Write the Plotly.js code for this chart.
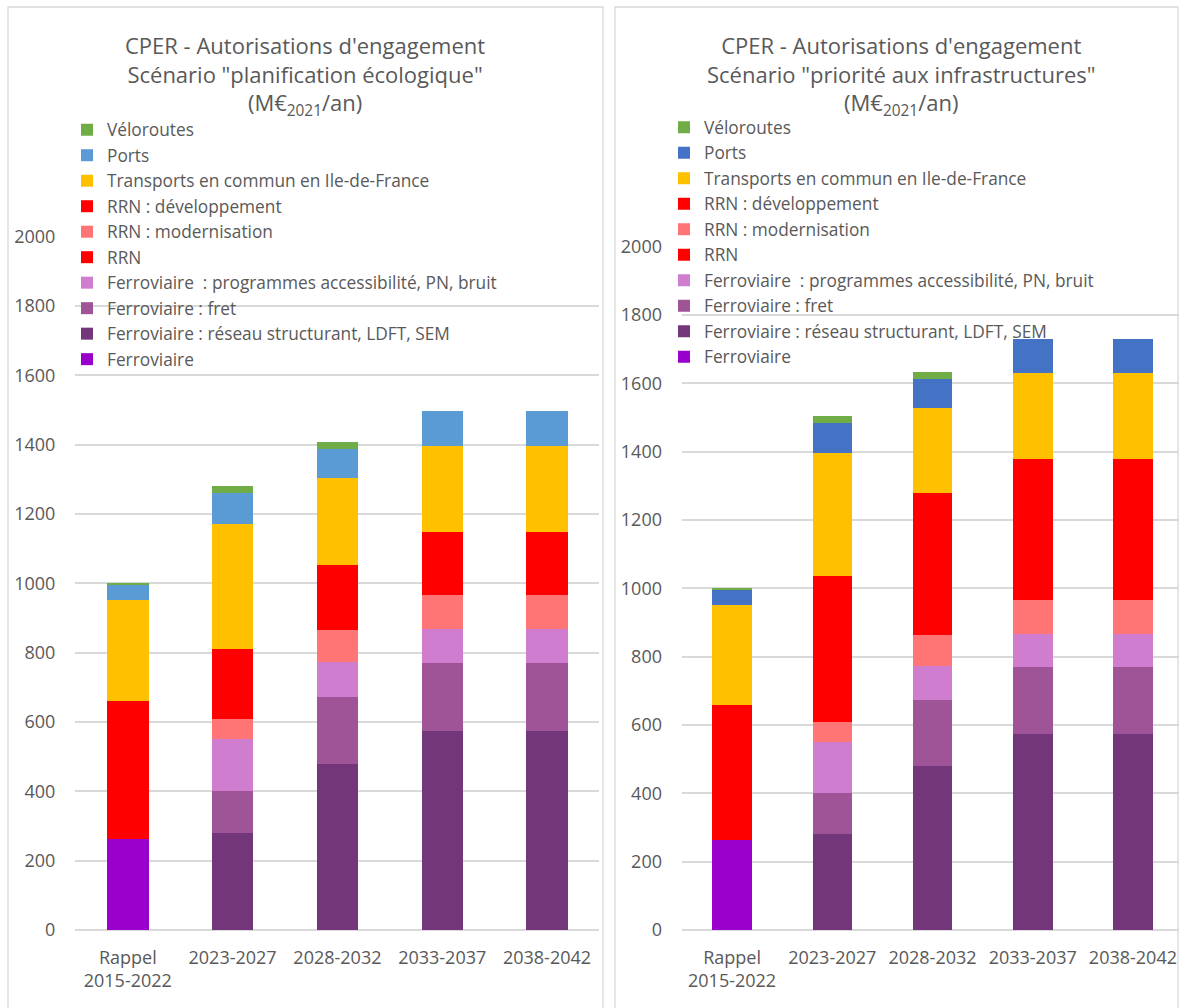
<!DOCTYPE html>
<html>
<head>
<meta charset="utf-8">
<script src="https://cdn.plot.ly/plotly-3.0.1.min.js"></script>
<style>html,body{margin:0;padding:0;background:#fff}#chart{width:1179px;height:1008px}</style>
</head>
<body>
<div id="chart"></div>
<script>
// ---- data ----
const categories = ["Rappel<br>2015-2022", "2023-2027", "2028-2032", "2033-2037", "2038-2042"];

const seriesNames = [
  "Ferroviaire",
  "Ferroviaire : réseau structurant, LDFT, SEM",
  "Ferroviaire : fret",
  "Ferroviaire  : programmes accessibilité, PN, bruit",
  "RRN",
  "RRN : modernisation",
  "RRN : développement",
  "Transports en commun en Ile-de-France",
  "Ports",
  "Véloroutes"
];

// Scénario "planification écologique"
const ecoFerroviaire   = [262, 0, 0, 0, 0];
const ecoStructurant   = [0, 280, 480, 575, 575];
const ecoFret          = [0, 122, 192, 195, 195];
const ecoAccessibilite = [0, 148, 100, 97, 97];
const ecoRRN           = [398, 0, 0, 0, 0];
const ecoModernisation = [0, 60, 92, 100, 100];
const ecoDeveloppement = [0, 200, 190, 180, 180];
const ecoTC            = [292, 360, 250, 250, 250];
const ecoPorts         = [45, 90, 85, 100, 100];
const ecoVeloroutes    = [3, 20, 20, 0, 0];

// Scénario "priorité aux infrastructures"
const infFerroviaire   = [262, 0, 0, 0, 0];
const infStructurant   = [0, 280, 480, 575, 575];
const infFret          = [0, 122, 192, 195, 195];
const infAccessibilite = [0, 148, 100, 97, 97];
const infRRN           = [398, 0, 0, 0, 0];
const infModernisation = [0, 60, 92, 100, 100];
const infDeveloppement = [0, 425, 415, 413, 413];
const infTC            = [292, 360, 250, 250, 250];
const infPorts         = [45, 90, 85, 100, 100];
const infVeloroutes    = [3, 20, 20, 0, 0];

const yTickVals = [0, 200, 400, 600, 800, 1000, 1200, 1400, 1600, 1800, 2000];

// ---- styles ----
const FONT = "'Open Sans', 'Noto Sans', sans-serif";
const TXT = "#595959";
const GRID = "#D9D9D9";
const colorsLeft  = ["#9900CC", "#74367A", "#9E5497", "#D17DCF", "#FF0000", "#FF7575", "#FF0000", "#FFC000", "#5B9BD5", "#70AD47"];
const colorsRight = ["#9900CC", "#74367A", "#9E5497", "#D17DCF", "#FF0000", "#FF7575", "#FF0000", "#FFC000", "#4472C4", "#70AD47"];

const ecoSeries = [ecoFerroviaire, ecoStructurant, ecoFret, ecoAccessibilite, ecoRRN, ecoModernisation, ecoDeveloppement, ecoTC, ecoPorts, ecoVeloroutes];
const infSeries = [infFerroviaire, infStructurant, infFret, infAccessibilite, infRRN, infModernisation, infDeveloppement, infTC, infPorts, infVeloroutes];

const traces = [];
ecoSeries.forEach((vals, i) => traces.push({
  type: "bar", name: seriesNames[i], x: categories, y: vals,
  xaxis: "x", yaxis: "y", legend: "legend",
  marker: {color: colorsLeft[i], line: {width: 0}}, hoverinfo: "x+y+name"
}));
infSeries.forEach((vals, i) => traces.push({
  type: "bar", name: seriesNames[i], x: categories, y: vals,
  xaxis: "x2", yaxis: "y2", legend: "legend2",
  marker: {color: colorsRight[i], line: {width: 0}}, hoverinfo: "x+y+name"
}));

const W = 1179, H = 1008;
const px = v => v / W;
const py = v => 1 - v / H;

const yAxisCommon = {
  range: [0, 2000], tickvals: yTickVals, showgrid: true, gridcolor: GRID, gridwidth: 1.5,
  zeroline: true, zerolinecolor: GRID, zerolinewidth: 1.5, showline: false,
  tickfont: {family: FONT, size: 18, color: TXT}, ticklabelstandoff: 19, fixedrange: true
};
const xAxisCommon = {
  type: "category", showgrid: false, zeroline: false, showline: false, ticks: "",
  tickfont: {family: FONT, size: 18, color: TXT}, ticklabelstandoff: 15, fixedrange: true
};
const legendCommon = {
  traceorder: "reversed", bgcolor: "rgba(0,0,0,0)", borderwidth: 0,
  font: {family: FONT, size: 17.3, color: TXT}, xanchor: "left", yanchor: "top",
  itemclick: false, itemdoubleclick: false
};

const layout = {
  width: W, height: H,
  margin: {l: 0, r: 0, t: 0, b: 0},
  paper_bgcolor: "#ffffff", plot_bgcolor: "rgba(0,0,0,0)",
  barmode: "stack", bargap: 0.605,
  showlegend: true,
  font: {family: FONT, color: TXT},
  xaxis: Object.assign({}, xAxisCommon, {domain: [px(75.4), px(599.4)], range: [-0.5, 4.5], anchor: "y"}),
  yaxis: Object.assign({}, yAxisCommon, {domain: [py(930), py(236.7)], anchor: "x"}),
  xaxis2: Object.assign({}, xAxisCommon, {domain: [px(682), 1], range: [-0.5, 4.46], anchor: "y2"}),
  yaxis2: Object.assign({}, yAxisCommon, {domain: [py(930), py(246.7)], anchor: "x2"}),
  legend: Object.assign({}, legendCommon, {x: px(67), y: py(112)}),
  legend2: Object.assign({}, legendCommon, {x: px(664), y: py(109.5)}),
  annotations: [
    {xref: "paper", yref: "paper", x: px(305), y: py(76), xanchor: "center", yanchor: "middle", showarrow: false,
     text: "CPER - Autorisations d'engagement<br>Scénario \"planification écologique\"<br>(M€<sub>2021</sub>/an)",
     font: {family: FONT, size: 22, color: TXT}, align: "center"},
    {xref: "paper", yref: "paper", x: px(901.5), y: py(76), xanchor: "center", yanchor: "middle", showarrow: false,
     text: "CPER - Autorisations d'engagement<br>Scénario \"priorité aux infrastructures\"<br>(M€<sub>2021</sub>/an)",
     font: {family: FONT, size: 22, color: TXT}, align: "center"}
  ],
  shapes: [
    {type: "rect", xref: "paper", yref: "paper", x0: px(8), x1: px(603), y0: -0.05, y1: py(7),
     line: {color: GRID, width: 1.3}, fillcolor: "rgba(0,0,0,0)", layer: "below"},
    {type: "rect", xref: "paper", yref: "paper", x0: px(615), x1: px(1178), y0: -0.05, y1: py(7),
     line: {color: GRID, width: 1.3}, fillcolor: "rgba(0,0,0,0)", layer: "below"}
  ]
};

Plotly.newPlot("chart", traces, layout, {displayModeBar: false, staticPlot: false});
</script>
</body>
</html>
